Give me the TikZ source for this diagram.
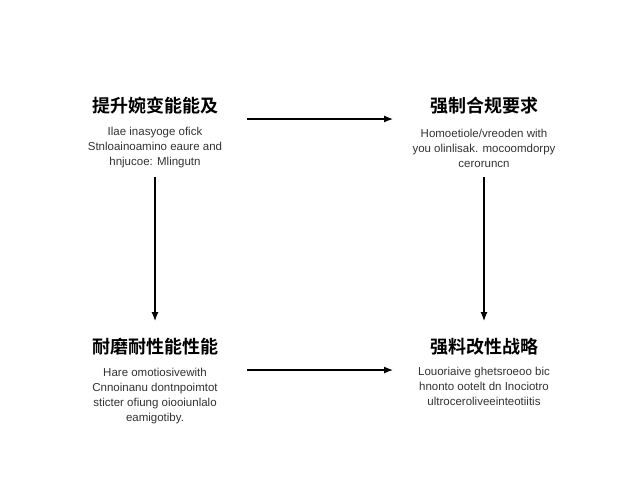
\documentclass[tikz,border=0pt]{standalone}
\usepackage{fontspec}
\setmainfont{Liberation Sans}
\newfontfamily\cjk{Noto Sans CJK SC}[BoldFont={* Bold}]
\usetikzlibrary{arrows.meta}
\begin{document}
\begin{tikzpicture}[x=1pt,y=-1pt,
  ttl/.style={font=\cjk\bfseries\fontsize{18}{20}\selectfont},
  body/.style={font=\fontsize{11.5}{15}\selectfont\color{black!80},align=center},
  arr/.style={-{Latex[length=9pt,width=7pt]},line width=1.2pt}]
\useasboundingbox[fill=white] (0,0) rectangle (640,480);
\node[ttl] (t1) at (155,106) {提升婉变能能及};
\node[body] (b1) at (155,148) {Ilae inasyoge ofick\\Stnloainoamino eaure and\\hnjucoe: Mlingutn};
\node[ttl] (t2) at (484,106) {强制合规要求};
\node[body] (b2) at (484,148) {Homoetiole/vreoden with\\you olinlisak. mocoomdorpy\\ceroruncn};
\node[ttl] (t3) at (155,347) {耐磨耐性能性能};
\node[body] (b3) at (155,396) {Hare omotiosivewith\\Cnnoinanu dontnpoimtot\\sticter ofiung oiooiunlalo\\eamigotiby.};
\node[ttl] (t4) at (484,347) {强料改性战略};
\node[body] (b4) at (484,386) {Louoriaive ghetsroeoo bic\\hnonto ootelt dn Inociotro\\ultroceroliveeinteotiitis};
\coordinate (h1s) at (247,119); \coordinate (h1e) at (393,119);
\coordinate (h2s) at (247,370); \coordinate (h2e) at (393,370);
\coordinate (v1s) at (155,177); \coordinate (v1e) at (155,321);
\coordinate (v2s) at (484,177); \coordinate (v2e) at (484,321);
\draw[arr] (h1s) -- (h1e);
\draw[arr] (h2s) -- (h2e);
\draw[arr] (v1s) -- (v1e);
\draw[arr] (v2s) -- (v2e);
\end{tikzpicture}
\end{document}
